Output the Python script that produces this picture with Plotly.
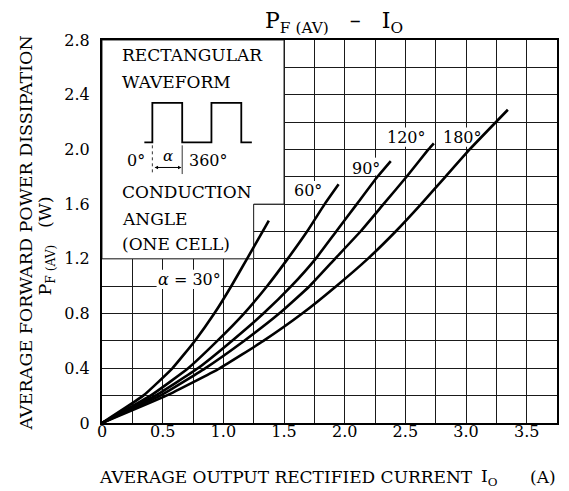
import plotly.graph_objects as go

# ---- data ----
angles = ["30°", "60°", "90°", "120°", "180°"]
io_30 = [0, 0.34, 0.58, 0.765, 0.925, 1.065, 1.195, 1.375]
pf_30 = [0, 0.2, 0.4, 0.6, 0.8, 1.0, 1.2, 1.48]
io_60 = [0, 0.40, 0.71, 0.95, 1.17, 1.36, 1.53, 1.69, 1.835, 1.95]
pf_60 = [0, 0.2, 0.4, 0.6, 0.8, 1.0, 1.2, 1.4, 1.6, 1.745]
io_90 = [0, 0.44, 0.79, 1.07, 1.33, 1.56, 1.76, 1.93, 2.10, 2.27, 2.38]
pf_90 = [0, 0.2, 0.4, 0.6, 0.8, 1.0, 1.2, 1.4, 1.6, 1.8, 1.915]
io_120 = [0, 0.48, 0.85, 1.17, 1.46, 1.71, 1.92, 2.13, 2.32, 2.51, 2.69, 2.735]
pf_120 = [0, 0.2, 0.4, 0.6, 0.8, 1.0, 1.2, 1.4, 1.6, 1.8, 2.0, 2.045]
io_180 = [0, 0.53, 0.97, 1.33, 1.65, 1.93, 2.19, 2.42, 2.63, 2.83, 3.03, 3.345]
pf_180 = [0, 0.2, 0.4, 0.6, 0.8, 1.0, 1.2, 1.4, 1.6, 1.8, 2.0, 2.29]

x_tickvals = [0, 0.5, 1.0, 1.5, 2.0, 2.5, 3.0, 3.5]
x_ticktext = ["0", "0.5", "1.0", "1.5", "2.0", "2.5", "3.0", "3.5"]
y_tickvals = [0, 0.4, 0.8, 1.2, 1.6, 2.0, 2.4, 2.8]
y_ticktext = ["0", "0.4", "0.8", "1.2", "1.6", "2.0", "2.4", "2.8"]

FONT = "DejaVu Serif"

fig = go.Figure()
series = [(io_30, pf_30), (io_60, pf_60), (io_90, pf_90), (io_120, pf_120), (io_180, pf_180)]
for name, (xs, ys) in zip(angles, series):
    fig.add_trace(go.Scatter(x=xs, y=ys, mode="lines", name=name,
                             line=dict(color="black", width=2.6, shape="spline", smoothing=0.4),
                             showlegend=False, hoverinfo="skip"))

# white inset box (covers grid, below curves)
fig.add_shape(type="path", xref="x", yref="y", layer="between",
              path="M 0,1.2 L 1.25,1.2 L 1.25,1.6 L 1.5,1.6 L 1.5,2.8 L 0,2.8 Z",
              fillcolor="white", line=dict(color="#222", width=1))
# white patches behind curve labels (below curves)
label_boxes = [(0.45, 0.98, 0.98, 1.12), (1.56, 1.83, 1.63, 1.77), (2.05, 2.30, 1.81, 1.94),
               (2.34, 2.69, 2.02, 2.16), (2.80, 3.14, 2.02, 2.16)]
for x0, x1, y0, y1 in label_boxes:
    fig.add_shape(type="rect", xref="x", yref="y", layer="between", x0=x0, x1=x1, y0=y0, y1=y1,
                  fillcolor="white", line=dict(width=0))

# waveform sketch
fig.add_shape(type="path", xref="x", yref="y", layer="above",
              path="M 0.349,2.051 L 0.415,2.051 L 0.415,2.341 L 0.661,2.341 L 0.661,2.051 "
                   "L 0.902,2.051 L 0.902,2.341 L 1.148,2.341 L 1.148,2.051 L 1.235,2.051",
              line=dict(color="black", width=1.8))
fig.add_shape(type="line", xref="x", yref="y", x0=0.415, x1=0.415, y0=2.03, y1=1.83,
              line=dict(color="black", width=0.8, dash="dot"))
fig.add_shape(type="line", xref="x", yref="y", x0=0.661, x1=0.661, y0=2.03, y1=1.82,
              line=dict(color="black", width=0.8))
fig.add_annotation(x=0.655, y=1.868, ax=0.421, ay=1.868, xref="x", yref="y",
                   axref="x", ayref="y", text="", showarrow=True, arrowhead=2,
                   arrowside="end+start", arrowsize=0.7, arrowwidth=1, arrowcolor="black")

def txt(x, y, s, size=16, xanchor="left", xref="x", yref="y", angle=0):
    fig.add_annotation(x=x, y=y, xref=xref, yref=yref, text=s, showarrow=False,
                       xanchor=xanchor, yanchor="middle", textangle=angle,
                       font=dict(family=FONT, size=size, color="black"))

txt(0.15, 2.69, "RECTANGULAR", size=17)
txt(0.15, 2.495, "WAVEFORM", size=17)
txt(0.277, 1.92, "0°", xanchor="center")
txt(0.546, 1.95, "<i>α</i>", size=15, xanchor="center")
txt(0.70, 1.92, "360°")
txt(0.15, 1.69, "CONDUCTION", size=17)
txt(0.15, 1.495, "ANGLE", size=17)
txt(0.15, 1.312, "(ONE CELL)", size=17)

# curve labels
txt(0.72, 1.05, "<i>α</i> = 30°", xanchor="center")
txt(1.695, 1.70, "60°", xanchor="center")
txt(2.174, 1.86, "90°", xanchor="center")
txt(2.51, 2.09, "120°", xanchor="center")
txt(2.97, 2.09, "180°", xanchor="center")

# titles
txt(0.51, 1.045, "P<sub>F (AV)</sub>&nbsp;&nbsp;&nbsp;–&nbsp;&nbsp;&nbsp;I<sub>O</sub>",
    size=22, xanchor="center", xref="paper", yref="paper")
txt(-0.168, 0.496, "AVERAGE FORWARD POWER DISSIPATION", size=17.5, xanchor="center",
    xref="paper", yref="paper", angle=-90)
txt(-0.122, 0.462, "P<sub>F (AV)</sub>&nbsp;&nbsp;&nbsp;(W)", size=17.5, xanchor="center",
    xref="paper", yref="paper", angle=-90)
txt(-0.01, -0.141, "AVERAGE OUTPUT RECTIFIED CURRENT", size=17, xanchor="left",
    xref="paper", yref="paper")
txt(0.851, -0.141, "I<sub>O</sub>", size=17, xanchor="center", xref="paper", yref="paper")
txt(0.969, -0.141, "(A)", size=17, xanchor="center", xref="paper", yref="paper")

axis_common = dict(showline=True, mirror=True, linecolor="black", linewidth=2,
                   showgrid=True, gridcolor="#1a1a1a", gridwidth=1, zeroline=False,
                   ticks="", tickfont=dict(family=FONT, size=16, color="black"))
fig.update_xaxes(range=[0, 3.75], tickvals=x_tickvals, ticktext=x_ticktext,
                 minor=dict(tickvals=[0.25, 0.75, 1.25, 1.75, 2.25, 2.75, 3.25, 3.75],
                            showgrid=True, gridcolor="#1a1a1a", gridwidth=1),
                 ticklabelstandoff=-7, **axis_common)
fig.update_yaxes(range=[0, 2.8], tickvals=y_tickvals, ticktext=y_ticktext,
                 minor=dict(tickvals=[0.2, 0.6, 1.0, 1.4, 1.8, 2.2, 2.6],
                            showgrid=True, gridcolor="#1a1a1a", gridwidth=1),
                 ticklabelstandoff=7, **axis_common)

# page body has an 8px margin, so the figure is sized to end at the window edge
fig.update_layout(width=561, height=483, margin=dict(l=94, r=10, t=32, b=68),
                  paper_bgcolor="white", plot_bgcolor="white", showlegend=False)

fig.write_html("out.html")
